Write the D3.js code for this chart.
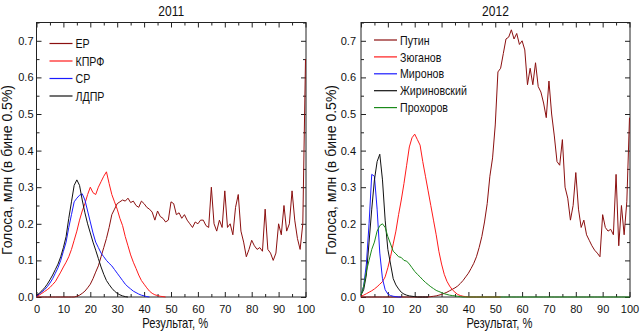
<!DOCTYPE html>
<html><head><meta charset="utf-8">
<script src="https://cdn.jsdelivr.net/npm/d3@7"></script>
<style>
body{margin:0;background:#fff}
svg{display:block}
text{font-family:"Liberation Sans",Arial,sans-serif;fill:#111}
</style>
</head><body>
<svg id="c" width="640" height="334"></svg>
<script>
// ---------- DATA (votes, mln, per result bin; bin index = result %) ----------
const xTickLabels = ["0","10","20","30","40","50","60","70","80","90","100"];
const yTickLabels = ["0.0","0.1","0.2","0.3","0.4","0.5","0.6","0.7"];

const names2011 = ["ЕР","КПРФ","СР","ЛДПР"];
const er2011 = [0,0,0,0,0,0,0,0,0,0,
0,0,0,0,0,0.002,0.005,0.01,0.016,0.025,
0.035,0.05,0.068,0.085,0.11,0.135,0.16,0.19,0.225,0.24,
0.255,0.26,0.265,0.262,0.27,0.258,0.262,0.25,0.245,0.262,
0.255,0.245,0.24,0.232,0.21,0.235,0.22,0.215,0.205,0.21,
0.26,0.255,0.225,0.23,0.215,0.225,0.21,0.2,0.19,0.205,
0.2,0.21,0.21,0.195,0.19,0.30,0.2,0.18,0.21,0.19,
0.29,0.19,0.2,0.17,0.245,0.28,0.18,0.15,0.11,0.13,
0.155,0.14,0.13,0.135,0.125,0.24,0.13,0.12,0.1,0.12,
0.2,0.17,0.25,0.18,0.2,0.29,0.21,0.16,0.13,0.2,
0.65];
const kprf2011 = [0.002,0.005,0.01,0.015,0.02,0.026,0.034,0.042,0.055,0.068,
0.082,0.095,0.11,0.13,0.155,0.18,0.21,0.235,0.255,0.28,
0.30,0.285,0.28,0.3,0.315,0.33,0.342,0.31,0.28,0.26,
0.24,0.215,0.195,0.165,0.14,0.115,0.095,0.078,0.06,0.045,
0.035,0.025,0.016,0.01,0.006,0.004,0.002,0.001,0];
const sr2011 = [0.003,0.008,0.014,0.02,0.028,0.038,0.05,0.065,0.08,0.1,
0.125,0.15,0.19,0.225,0.26,0.27,0.278,0.282,0.265,0.235,
0.205,0.175,0.15,0.135,0.12,0.11,0.1,0.092,0.085,0.075,
0.065,0.055,0.045,0.035,0.028,0.022,0.016,0.012,0.008,0.005,
0.003,0.001,0];
const ldpr2011 = [0.004,0.01,0.017,0.025,0.035,0.047,0.06,0.075,0.09,0.11,
0.135,0.165,0.215,0.26,0.305,0.32,0.305,0.265,0.23,0.2,
0.175,0.15,0.128,0.105,0.082,0.062,0.045,0.034,0.024,0.016,
0.01,0.006,0.003,0.001,0];

const names2012 = ["Путин","Зюганов","Миронов","Жириновский","Прохоров"];
const putin2012 = [0,0,0,0,0,0,0,0,0,0,
0,0,0,0,0,0,0,0,0,0,
0,0,0,0,0,0,0.001,0.002,0.003,0.005,
0.007,0.01,0.013,0.017,0.021,0.025,0.03,0.037,0.045,0.055,
0.065,0.078,0.092,0.11,0.135,0.165,0.205,0.255,0.33,0.38,
0.47,0.615,0.625,0.665,0.705,0.71,0.73,0.705,0.72,0.69,
0.7,0.675,0.58,0.625,0.58,0.64,0.575,0.56,0.53,0.49,
0.59,0.5,0.44,0.37,0.36,0.43,0.3,0.27,0.21,0.25,
0.34,0.24,0.19,0.21,0.17,0.155,0.14,0.128,0.12,0.11,
0.225,0.19,0.18,0.185,0.17,0.335,0.14,0.25,0.17,0.26,
0.49];
const zyuganov2012 = [0.002,0.005,0.009,0.013,0.017,0.022,0.028,0.035,0.042,0.055,
0.08,0.11,0.145,0.18,0.225,0.265,0.31,0.36,0.41,0.435,
0.445,0.43,0.415,0.37,0.33,0.29,0.25,0.21,0.17,0.125,
0.09,0.062,0.043,0.03,0.02,0.013,0.007,0.004,0.002,0.001,
0,0,0,0,0,0,0,0,0,0,0,0,0];
const mironov2012 = [0.005,0.03,0.09,0.2,0.335,0.33,0.24,0.12,0.05,0.02,
0.008,0.004,0.002,0.001,0,0];
const zhirinovsky2012 = [0.005,0.02,0.06,0.15,0.24,0.32,0.37,0.39,0.32,0.21,
0.13,0.09,0.05,0.033,0.022,0.013,0.008,0.005,0.003,0.002,
0.001,0,0,0,0,0];
const prokhorov2012 = [0.005,0.03,0.07,0.1,0.13,0.15,0.18,0.195,0.2,0.19,
0.165,0.145,0.125,0.118,0.11,0.108,0.1,0.098,0.09,0.08,
0.07,0.062,0.055,0.047,0.04,0.034,0.028,0.023,0.018,0.015,
0.012,0.009,0.007,0.005,0.004,0.003,0.002,0.001,0,0,
0,0,0,0,0,0,0,0,0,0,
0,0,0,0,0,0,0,0,0,0,
0,0,0,0,0,0,0,0,0,0,
0,0,0,0,0,0,0,0,0,0,
0,0,0,0,0,0,0,0,0,0,
0,0,0,0,0,0,0,0,0,0,
0];

const colors2011 = ["#8b1010","#ff1a1a","#1a1aff","#111111"];
const colors2012 = ["#8b1010","#ff1a1a","#1a1aff","#111111","#1a8a1a"];

// ---------- DRAW ----------
const svg = d3.select("#c");
const yTop = 22.5, yBot = 297;

function panel(p){
  const x = d3.scaleLinear().domain([0,100]).range([p.x0, p.x1 - 0.5]);
  const y = d3.scaleLinear().domain([0,0.75]).range([yBot, yTop]);
  const g = svg.append("g");

  const xMajor = xTickLabels.map(Number);
  const xMinor = xMajor.slice(0,-1).map(v => v + 5);
  const yMajor = yTickLabels.map(Number);
  const yMinor = yMajor.map(v => v + 0.05);

  const style = sel => { sel.select(".domain").remove(); sel.selectAll("line").attr("stroke","#222"); };

  g.append("g").attr("transform",`translate(0,${yBot})`)
    .call(d3.axisBottom(x).tickValues(xMajor).tickSize(-5).tickPadding(8).tickFormat((d,i)=>xTickLabels[i]))
    .call(style).selectAll("text").attr("font-size",11).attr("font-family","Liberation Sans, Arial").attr("fill","#111");
  g.append("g").attr("transform",`translate(0,${yBot})`)
    .call(d3.axisBottom(x).tickValues(xMinor).tickSize(-3).tickFormat("")).call(style);
  g.append("g").attr("transform",`translate(0,${yTop})`)
    .call(d3.axisTop(x).tickValues(xMajor).tickSize(-5).tickFormat("")).call(style);
  g.append("g").attr("transform",`translate(0,${yTop})`)
    .call(d3.axisTop(x).tickValues(xMinor).tickSize(-3).tickFormat("")).call(style);

  g.append("g").attr("transform",`translate(${p.x0},0)`)
    .call(d3.axisLeft(y).tickValues(yMajor).tickSize(-5).tickPadding(p.ypad).tickFormat((d,i)=>yTickLabels[i]))
    .call(style).selectAll("text").attr("font-size",11).attr("font-family","Liberation Sans, Arial").attr("fill","#111");
  g.append("g").attr("transform",`translate(${p.x0},0)`)
    .call(d3.axisLeft(y).tickValues(yMinor).tickSize(-3).tickFormat("")).call(style);
  g.append("g").attr("transform",`translate(${p.x1},0)`)
    .call(d3.axisRight(y).tickValues(yMajor).tickSize(-5).tickFormat("")).call(style);
  g.append("g").attr("transform",`translate(${p.x1},0)`)
    .call(d3.axisRight(y).tickValues(yMinor).tickSize(-3).tickFormat("")).call(style);

  g.append("rect").attr("x",p.x0).attr("y",yTop).attr("width",p.x1-p.x0).attr("height",yBot-yTop)
    .attr("fill","none").attr("stroke","#222").attr("stroke-width",1);

  const line = d3.line().x((d,i)=>x(i)).y(d=>y(d));
  const lg = g.append("g");
  p.series.forEach((s,k)=>{
    lg.append("path").datum(s).attr("d",line).attr("fill","none")
      .attr("stroke",p.colors[k]).attr("stroke-width",1).attr("stroke-linejoin","round");
  });

  // legend
  p.names.forEach((n,k)=>{
    const ly = p.ly0 + k*p.lstep;
    g.append("line").attr("x1",p.x0+13).attr("x2",p.x0+36).attr("y1",ly).attr("y2",ly)
      .attr("stroke",p.colors[k]).attr("stroke-width",1.2);
    g.append("text").attr("transform",`translate(${p.x0+39},${ly}) scale(0.82,1)`)
      .attr("dy","0.36em").attr("font-size",13).text(n);
  });

  // title
  const cx = (p.x0+p.x1)/2;
  g.append("text").attr("transform",`translate(${cx},16) scale(0.86,1)`)
    .attr("text-anchor","middle").attr("font-size",14).text(p.title);
  // x label
  g.append("text").attr("transform",`translate(${cx+4},328) scale(0.8,1)`)
    .attr("text-anchor","middle").attr("font-size",14).text("Результат, %");
  // y label
  g.append("text").attr("transform",`translate(${p.x0-25},170) rotate(-90)`)
    .attr("text-anchor","middle").attr("font-size",14).text("Голоса, млн (в бине 0.5%)");
}

panel({id:1, x0:36.5, x1:306, ypad:3, title:"2011",
  series:[er2011,kprf2011,sr2011,ldpr2011], names:names2011, colors:colors2011,
  ly0:43.5, lstep:17.5});
panel({id:2, x0:361, x1:630, ypad:5, title:"2012",
  series:[putin2012,zyuganov2012,mironov2012,zhirinovsky2012,prokhorov2012], names:names2012, colors:colors2012,
  ly0:40, lstep:16.9});
</script>
</body></html>
